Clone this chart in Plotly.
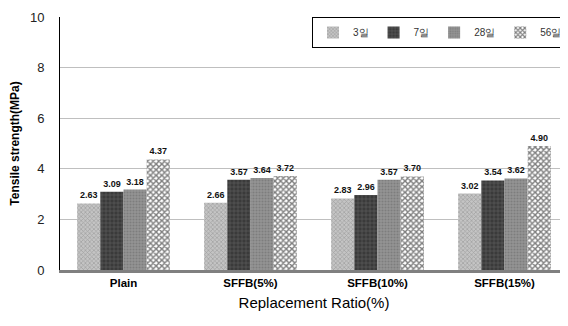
import plotly.graph_objects as go

categories = ["Plain", "SFFB(5%)", "SFFB(10%)", "SFFB(15%)"]
series_names = ["3일", "7일", "28일", "56일"]
d3 = [2.63, 2.66, 2.83, 3.02]
d7 = [3.09, 3.57, 2.96, 3.54]
d28 = [3.18, 3.64, 3.57, 3.62]
d56 = [4.37, 3.72, 3.70, 4.90]
y_ticks = [0, 2, 4, 6, 8, 10]

values = [d3, d7, d28, d56]
styles = [
    dict(bgcolor="#c4c4c4", fgcolor="#7a7a7a", shape="x", size=3, solidity=0.4),
    dict(bgcolor="#3a3a3a", fgcolor="#8a8a8a", shape="+", size=4, solidity=0.25),
    dict(bgcolor="#959595", fgcolor="#666666", shape=".", size=3, solidity=0.4),
    dict(bgcolor="#ffffff", fgcolor="#000000", shape="x", size=4, solidity=0.6),
]

fig = go.Figure()
for name, vals, st in zip(series_names, values, styles):
    fig.add_trace(go.Bar(
        name=name, x=categories, y=vals,
        marker=dict(color=st["bgcolor"], line=dict(width=0),
                    pattern=dict(shape=st["shape"], fgcolor=st["fgcolor"], bgcolor=st["bgcolor"],
                                 size=st["size"], solidity=st["solidity"], fillmode="overlay")),
        text=[f"{v:.2f}" for v in vals], textposition="outside", cliponaxis=False,
        textfont=dict(family="Arial", size=9, color="#111111", weight="bold"),
    ))

fig.update_layout(
    width=560, height=318,
    margin=dict(l=52, r=0, t=9, b=56),
    paper_bgcolor="white", plot_bgcolor="white",
    barmode="group", bargap=0.27, bargroupgap=0,
    font=dict(family="Arial", color="#000000"),
    legend=dict(orientation="h", x=1, xanchor="right", y=1, yanchor="top",
                bordercolor="#000000", borderwidth=1, bgcolor="white",
                font=dict(size=10, color="#333333"), itemwidth=30),
    xaxis=dict(showline=True, linecolor="#808080", linewidth=2.5,
               tickfont=dict(size=11.5, weight="bold"), ticks="",
               title=dict(text="Replacement Ratio(%)", font=dict(size=15), standoff=10)),
    yaxis=dict(range=[0, 10], tickvals=y_ticks, showline=True, linecolor="#000000", linewidth=1,
               showgrid=True, gridcolor="#bfbfbf", gridwidth=1, zeroline=False,
               tickfont=dict(size=13, color="#222222"), ticks="", ticklabelstandoff=12,
               ticklabeloverflow="allow", automargin=False,
               title=dict(text="Tensile strength(MPa)", font=dict(size=12, weight="bold"), standoff=8)),
    showlegend=True,
)

fig.write_html("out.html")
